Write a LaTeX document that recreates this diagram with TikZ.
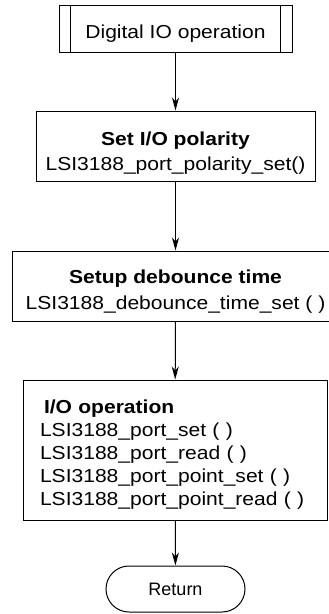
\documentclass[tikz,border=0pt]{standalone}
\usepackage{fontspec}
\setmainfont{Liberation Sans}[FakeStretch=1.12]
\newfontfamily\retfont{Liberation Sans}
\usetikzlibrary{arrows.meta}
\begin{document}
\begin{tikzpicture}[x=1pt,y=1pt,
  box/.style={draw, line width=1pt, inner sep=0pt, font=\fontsize{18.8}{25.5}\selectfont},
  arr/.style={draw, line width=1pt, -{Stealth[length=13pt,width=7pt,inset=4pt]}}]
\clip (0,0) rectangle (329,-614);
\node[box, minimum width=233pt, minimum height=47pt] (b1) at (175.5,-28.5) {\rule{0pt}{23pt}Digital IO operation};
\draw[line width=1pt] ([xshift=12pt]b1.north west) -- ([xshift=12pt]b1.south west);
\draw[line width=1pt] ([xshift=-12pt]b1.north east) -- ([xshift=-12pt]b1.south east);
\node[box, minimum width=279pt, minimum height=70pt, align=center] (b2) at (175.5,-146)
  {\rule{0pt}{28pt}\textbf{Set I/O polarity}\\LSI3188\_port\_polarity\_set()};
\node[box, minimum width=327pt, minimum height=70pt, align=center] (b3) at (175.5,-286)
  {\rule{0pt}{25pt}\textbf{Setup debounce time}\\LSI3188\_debounce\_time\_set ( )};
\node[box, minimum width=304pt, minimum height=140pt, text width=270pt, align=left, font=\fontsize{18.8}{23}\selectfont] (b4) at (175,-450)
  {\rule{0pt}{23pt}\hspace*{4pt}\textbf{I/O operation}\\LSI3188\_port\_set ( )\\LSI3188\_port\_read ( )\\LSI3188\_port\_point\_set ( )\\LSI3188\_port\_point\_read ( )};
\node[draw, line width=1pt, rounded corners=23pt, minimum width=139pt, minimum height=46pt, inner sep=0pt, font=\retfont\fontsize{18}{22}\selectfont] (ret) at (175.5,-589) {Return};
\draw[arr] (b1) -- (b2);
\draw[arr] (b2) -- (b3);
\draw[arr] (b3) -- (b4);
\draw[arr] (b4) -- (ret);
\end{tikzpicture}
\end{document}
